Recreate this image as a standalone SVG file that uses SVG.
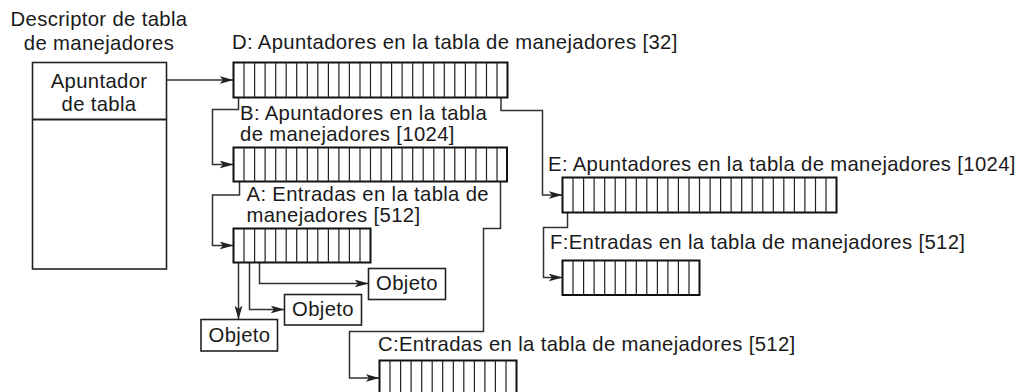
<svg xmlns="http://www.w3.org/2000/svg" width="1026" height="392" viewBox="0 0 1026 392">
<defs>
<style>
.t{font-family:"Liberation Sans",Arial,Helvetica,sans-serif;font-size:20.3px;fill:#1a1a1a;letter-spacing:0.35px}
.c{text-anchor:middle}
.frame{fill:#fff;stroke:#111;stroke-width:2}
.div{fill:none;stroke:#222;stroke-width:1.2}
.box{fill:#fff;stroke:#222;stroke-width:1.6}
.con{fill:none;stroke:#333;stroke-width:1.5}
</style>
<marker id="ah" viewBox="0 0 14 8" refX="14" refY="4" markerWidth="14" markerHeight="8" markerUnits="userSpaceOnUse" orient="auto">
<path d="M0,0 L14,4 L0,8 L3.5,4 z" fill="#222"/>
</marker>
</defs>
<rect width="1026" height="392" fill="#fff"/>

<g id="descriptor">
<text class="t c" x="99" y="26">Descriptor de tabla</text>
<text class="t c" x="99" y="50">de manejadores</text>
<rect class="box" x="32.5" y="62.5" width="134" height="206.5" stroke-width="2"/>
<line x1="32.5" y1="119.5" x2="166.5" y2="119.5" stroke="#222" stroke-width="2"/>
<text class="t c" x="99" y="88">Apuntador</text>
<text class="t c" x="99" y="111">de tabla</text>
</g>

<g id="connectors">
<path class="con" d="M166.5,80 H233.5" marker-end="url(#ah)"/>
<path class="con" d="M238.5,97.5 V109.5 H212.5 V164.5 H233.5" marker-end="url(#ah)"/>
<path class="con" d="M501,97.5 V110.5 H542.5 V195 H562.5" marker-end="url(#ah)"/>
<path class="con" d="M239.5,181.5 V195 H212.5 V245.5 H233.5" marker-end="url(#ah)"/>
<path class="con" d="M500.5,181.5 V228.5 H483.5 V331.5 H349.5 V378 H379.5" marker-end="url(#ah)"/>
<path class="con" d="M567.5,212.5 V227.5 H543.5 V277.5 H562.5" marker-end="url(#ah)"/>
<path class="con" d="M238.5,262.5 V319.5" marker-end="url(#ah)"/>
<path class="con" d="M249.5,262.5 V309.5 H284.5" marker-end="url(#ah)"/>
<path class="con" d="M259.5,262.5 V283.5 H368.5" marker-end="url(#ah)"/>
</g>

<g id="D">
<text class="t" x="232" y="49">D: Apuntadores en la tabla de manejadores [32]</text>
<rect class="frame" x="233.5" y="62.5" width="274" height="35"/>
<path class="div" d="M244,62.5V97.5M254.6,62.5V97.5M265.1,62.5V97.5M275.7,62.5V97.5M286.2,62.5V97.5M296.7,62.5V97.5M307.3,62.5V97.5M317.8,62.5V97.5M328.4,62.5V97.5M338.9,62.5V97.5M349.4,62.5V97.5M360,62.5V97.5M370.5,62.5V97.5M381.1,62.5V97.5M391.6,62.5V97.5M402.1,62.5V97.5M412.7,62.5V97.5M423.2,62.5V97.5M433.8,62.5V97.5M444.3,62.5V97.5M454.8,62.5V97.5M465.4,62.5V97.5M475.9,62.5V97.5M486.5,62.5V97.5M497,62.5V97.5"/>
</g>

<g id="B">
<text class="t" x="240" y="120">B: Apuntadores en la tabla</text>
<text class="t" x="240" y="141">de manejadores [1024]</text>
<rect class="frame" x="233.5" y="147.5" width="273.5" height="34"/>
<path class="div" d="M244,147.5V181.5M254.6,147.5V181.5M265.1,147.5V181.5M275.7,147.5V181.5M286.2,147.5V181.5M296.7,147.5V181.5M307.3,147.5V181.5M317.8,147.5V181.5M328.4,147.5V181.5M338.9,147.5V181.5M349.4,147.5V181.5M360,147.5V181.5M370.5,147.5V181.5M381.1,147.5V181.5M391.6,147.5V181.5M402.1,147.5V181.5M412.7,147.5V181.5M423.2,147.5V181.5M433.8,147.5V181.5M444.3,147.5V181.5M454.8,147.5V181.5M465.4,147.5V181.5M475.9,147.5V181.5M486.5,147.5V181.5M497,147.5V181.5"/>
</g>

<g id="A">
<text class="t" x="246.5" y="200.5">A: Entradas en la tabla de</text>
<text class="t" x="246.5" y="221.5">manejadores [512]</text>
<rect class="frame" x="233.5" y="228.5" width="137" height="34"/>
<path class="div" d="M244,228.5V262.5M254.6,228.5V262.5M265.1,228.5V262.5M275.7,228.5V262.5M286.2,228.5V262.5M296.7,228.5V262.5M307.3,228.5V262.5M317.8,228.5V262.5M328.4,228.5V262.5M338.9,228.5V262.5M349.4,228.5V262.5M360,228.5V262.5"/>
</g>

<g id="E">
<text class="t" x="548" y="171">E: Apuntadores en la tabla de manejadores [1024]</text>
<rect class="frame" x="562.5" y="177.5" width="274" height="35"/>
<path class="div" d="M573,177.5V212.5M583.6,177.5V212.5M594.1,177.5V212.5M604.7,177.5V212.5M615.2,177.5V212.5M625.7,177.5V212.5M636.3,177.5V212.5M646.8,177.5V212.5M657.4,177.5V212.5M667.9,177.5V212.5M678.4,177.5V212.5M689,177.5V212.5M699.5,177.5V212.5M710.1,177.5V212.5M720.6,177.5V212.5M731.1,177.5V212.5M741.7,177.5V212.5M752.2,177.5V212.5M762.8,177.5V212.5M773.3,177.5V212.5M783.8,177.5V212.5M794.4,177.5V212.5M804.9,177.5V212.5M815.5,177.5V212.5M826,177.5V212.5"/>
</g>

<g id="F">
<text class="t" x="550" y="249">F:Entradas en la tabla de manejadores [512]</text>
<rect class="frame" x="562.5" y="260.5" width="137" height="34.5"/>
<path class="div" d="M573,260.5V295M583.6,260.5V295M594.1,260.5V295M604.7,260.5V295M615.2,260.5V295M625.7,260.5V295M636.3,260.5V295M646.8,260.5V295M657.4,260.5V295M667.9,260.5V295M678.4,260.5V295M689,260.5V295"/>
</g>

<g id="C">
<text class="t" x="378" y="350.5">C:Entradas en la tabla de manejadores [512]</text>
<rect class="frame" x="379.5" y="360.5" width="137" height="36"/>
<path class="div" d="M390,360.5V396M400.6,360.5V396M411.1,360.5V396M421.7,360.5V396M432.2,360.5V396M442.7,360.5V396M453.3,360.5V396M463.8,360.5V396M474.4,360.5V396M484.9,360.5V396M495.4,360.5V396M506,360.5V396"/>
</g>

<g id="obj1">
<rect class="box" x="368.5" y="268.5" width="77" height="31"/>
<text class="t c" x="407" y="289.5">Objeto</text>
</g>
<g id="obj2">
<rect class="box" x="284.5" y="294.5" width="77" height="30.5"/>
<text class="t c" x="323" y="315.5">Objeto</text>
</g>
<g id="obj3">
<rect class="box" x="201" y="319.5" width="76.5" height="31.5"/>
<text class="t c" x="239.5" y="341.5">Objeto</text>
</g>
</svg>
